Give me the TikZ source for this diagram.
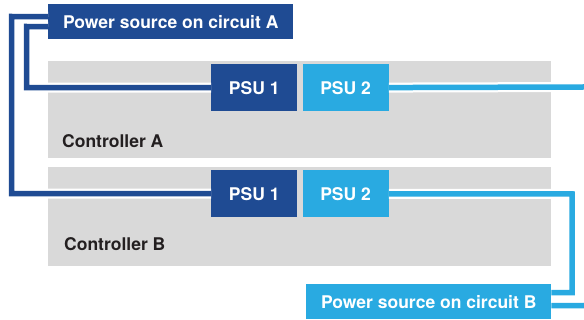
\documentclass[tikz,border=0pt]{standalone}
\usepackage{fontspec}
\setmainfont{TeX Gyre Heros}
\usepackage{xcolor}
\usetikzlibrary{positioning}

\definecolor{psudark}{HTML}{1F4B93}
\definecolor{psulight}{HTML}{29AAE1}
\definecolor{bandgray}{HTML}{D9D9D9}
\definecolor{labelink}{HTML}{231F20}

\begin{document}
\begin{tikzpicture}[
  x=1pt, y=-1pt,
  node distance=5pt,
  band/.style={fill=bandgray, anchor=north west, inner sep=0pt, minimum width=503pt, minimum height=97pt},
  unit/.style={inner sep=0pt, minimum width=86pt, minimum height=47pt, text=white, font=\bfseries\fontsize{17.5}{19}\selectfont},
  source/.style={inner sep=0pt, minimum width=245pt, minimum height=35pt, text=white, font=\bfseries\fontsize{17.5}{19}\selectfont},
  ctrl/.style={anchor=west, inner sep=0pt, text=labelink, font=\bfseries\fontsize{17.5}{19}\selectfont},
  cable/.style={line width=5.5pt, preaction={draw=white, line width=10pt}}
]
\useasboundingbox (0,0) rectangle (584,320);

% controller trays
\node[band] (trayA) at (48,61) {};
\node[band, minimum height=99pt] (trayB) at (48,167) {};
\node[ctrl] (ctrlA) at (62,141) {Controller A};
\node[ctrl] (ctrlB) at (64,244) {Controller B};

% power supplies
\node[unit, fill=psudark, anchor=north west] (psu1a) at (211,64) {PSU 1};
\node[unit, fill=psulight, right=of psu1a] (psu2a) {PSU 2};
\node[unit, fill=psudark, anchor=north west] (psu1b) at (211,170) {PSU 1};
\node[unit, fill=psulight, right=of psu1b] (psu2b) {PSU 2};

% power sources
\node[source, fill=psudark, anchor=north west] (pwrA) at (48,4) {Power source on circuit A};
\node[source, fill=psulight, anchor=north west] (pwrB) at (306,284) {Power source on circuit B};

\coordinate (edgeA) at (584,87);
\coordinate (edgeB) at (584,305.5);

% circuit A
\draw[cable, psudark] ([yshift=5pt]pwrA.west) -- (11.5,16.5) |- (psu1b);
\draw[cable, psudark] ([yshift=-5pt]pwrA.west) -- (26.5,26.5) |- (psu1a);

% circuit B
\draw[cable, psulight] (psu2a) -- (edgeA);
\draw[cable, psulight] (psu2b) -- (572,194) |- ([yshift=9pt]pwrB.east);
\draw[cable, psulight] ([yshift=-4pt]pwrB.east) -- (edgeB);
\end{tikzpicture}
\end{document}
